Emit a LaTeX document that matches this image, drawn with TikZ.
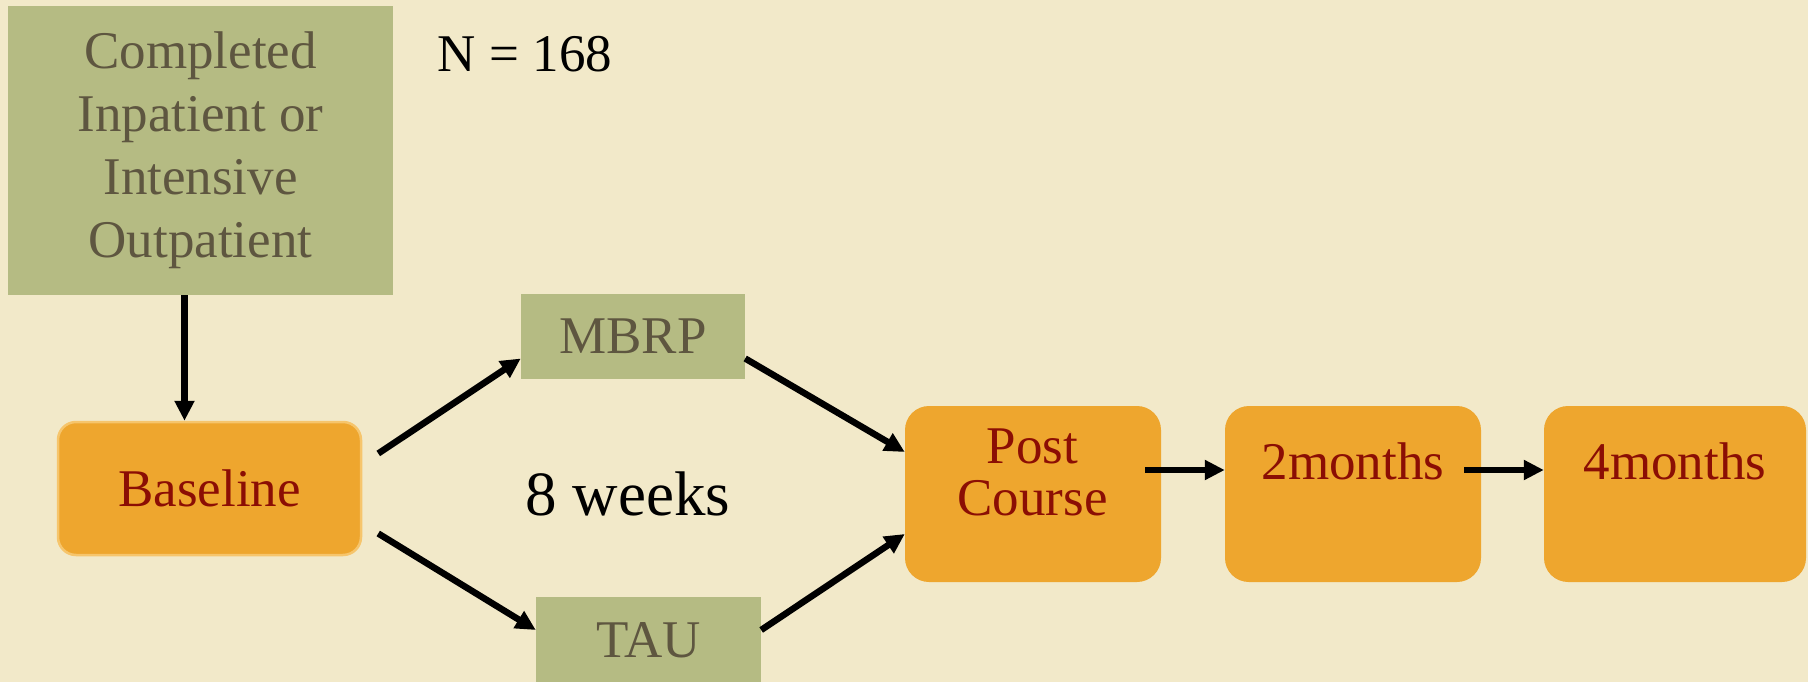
\documentclass[tikz,border=0pt]{standalone}
\usepackage{fontspec}
\setmainfont{Liberation Serif}
\usetikzlibrary{arrows.meta}
\definecolor{bg}{HTML}{F2E9C9}
\definecolor{olive}{HTML}{B5BB83}
\definecolor{olivetext}{HTML}{5E5640}
\definecolor{orangebox}{HTML}{EEA62E}
\definecolor{orangeedge}{HTML}{F6C56C}
\definecolor{redtext}{HTML}{8B0E04}
\tikzset{
  gbox/.style={fill=olive, draw=none, text=olivetext, align=center, inner sep=0pt,
    font=\fontsize{53}{63}\selectfont},
  obox/.style={fill=orangebox, draw=none, rounded corners=24pt, inner sep=0pt},
  otext/.style={text=redtext, align=center, inner sep=0pt, font=\fontsize{53}{52}\selectfont},
  arr/.style={line width=6.5pt, -{Triangle[length=20pt,width=19pt]}},
  plain/.style={text=black, inner sep=0pt}
}
\begin{document}
\begin{tikzpicture}[x=1pt,y=-1pt]
\fill[bg] (0,0) rectangle (1808,682);
\useasboundingbox (0,0) rectangle (1808,682);
\begin{scope}
\clip (0,0) rectangle (1808,682);
% nodes
\node[gbox, minimum width=385pt, minimum height=289pt] (top) at (200.5,150.5)
  {Completed\\Inpatient or\\Intensive\\Outpatient};
\node[plain, font=\fontsize{53}{63}\selectfont] (n) at (525,54) {N = 168};
\node[obox, rounded corners=18pt, draw=orangeedge, line width=2.5pt,
  minimum width=303pt, minimum height=133pt] (bl) at (209.5,488.5) {};
\node[otext] (blT) at (bl.center) {Baseline};
\node[gbox, minimum width=224pt, minimum height=85pt] (mbrp) at (633,336.5) {MBRP};
\node[gbox, minimum width=225pt, minimum height=86pt] (tau) at (648.5,640) {TAU};
\node[plain, font=\fontsize{63}{70}\selectfont] (wk) at (628,494) {8 weeks};
\node[obox, minimum width=256pt, minimum height=176pt] (post) at (1033,494) {};
\node[otext] (postT) at (1032.5,472) {Post\\Course};
\node[obox, minimum width=256pt, minimum height=176pt] (m2) at (1353,494) {};
\node[otext] (m2T) at (1353,461) {2months};
\node[obox, minimum width=262pt, minimum height=176pt] (m4) at (1675,494) {};
\node[otext] (m4T) at (1675,461) {4months};
% connectors
\draw[arr] ([xshift=-16pt]top.south) -- ([xshift=-16pt]top.south |- bl.north);
\draw[arr] ([shift={(16,-35)}]bl.east) -- ([shift={(0,22)}]mbrp.west);
\draw[arr] ([shift={(16,45)}]bl.east) -- ([shift={(0,-10)}]tau.west);
\draw[arr] ([shift={(0,22)}]mbrp.east) -- ([shift={(0,-42)}]post.west);
\draw[arr] ([shift={(0,-10)}]tau.east) -- ([shift={(0,40)}]post.west);
\draw[arr] ([shift={(-16,-24)}]post.east) -- ([shift={(0,-24)}]m2.west);
\draw[arr] ([shift={(-17,-24)}]m2.east) -- ([shift={(0,-24)}]m4.west);
\end{scope}
\end{tikzpicture}
\end{document}
